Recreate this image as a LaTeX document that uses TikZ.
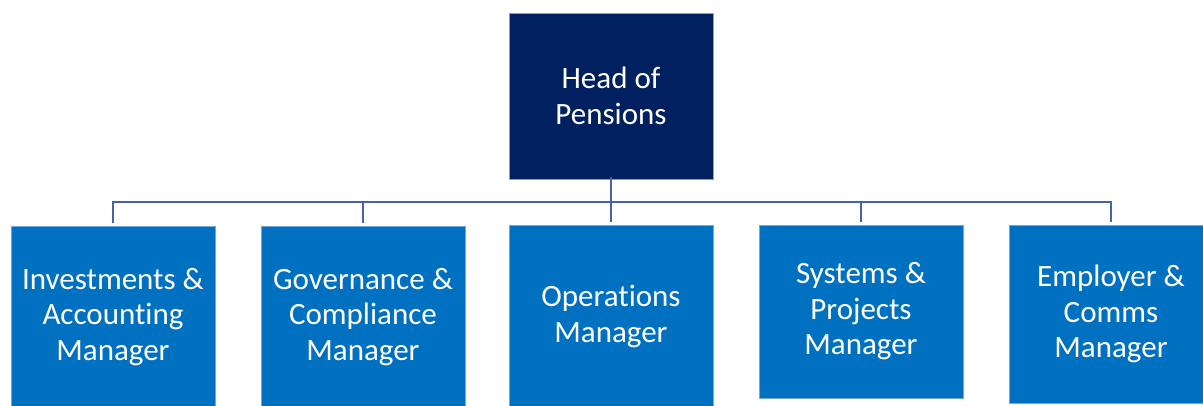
\documentclass[tikz,border=0pt]{standalone}
\usepackage{fontspec}
\setmainfont[Ligatures=NoCommon]{Carlito}
\definecolor{headblue}{RGB}{0,32,96}
\definecolor{mgrblue}{RGB}{0,112,192}
\definecolor{edgeblue}{RGB}{120,165,215}
\definecolor{linkblue}{RGB}{70,100,165}
\begin{document}
\begin{tikzpicture}[x=1pt,y=1pt,
  box/.style={rectangle, draw=edgeblue, line width=0.8pt, inner sep=0pt,
    minimum width=204pt, align=center, text=white,
    font=\fontsize{31}{35.5}\selectfont},
  headbox/.style={box, fill=headblue, minimum height=166pt},
  mgrbox/.style={box, fill=mgrblue},
  link/.style={draw=linkblue, line width=1.6pt}]
\useasboundingbox (0,0) rectangle (1203,406);
\clip (0,0) rectangle (1203,406);
\node[headbox] (head) at (611,310) {Head of\\Pensions};
\node[mgrbox, minimum height=182pt] (m1) at (113,89) {Investments \&\\Accounting\\Manager};
\node[mgrbox, minimum height=182pt] (m2) at (363,89) {Governance \&\\Compliance\\Manager};
\node[mgrbox, minimum height=183pt] (m3) at (611,89.5) {Operations\\Manager};
\node[mgrbox, minimum height=173pt] (m4) at (861,94.5) {Systems \&\\Projects\\Manager};
\node[mgrbox, minimum height=178pt] (m5) at (1111,92) {Employer \&\\Comms\\Manager};
\coordinate (bar) at (611,204);
\draw[link] ([yshift=2pt]head.south) -- ([yshift=3pt]m3.north);
\draw[link] ([yshift=3pt]m1.north) -- (m1.north |- bar) -- (m5.north |- bar) -- ([yshift=3pt]m5.north);
\draw[link] ([yshift=3pt]m2.north) -- (m2.north |- bar);
\draw[link] ([yshift=3pt]m4.north) -- (m4.north |- bar);
\end{tikzpicture}
\end{document}
